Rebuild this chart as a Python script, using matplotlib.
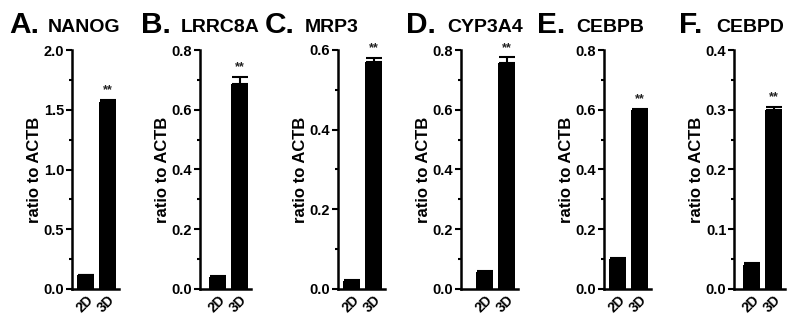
import numpy as np
import matplotlib
matplotlib.use('Agg')
import matplotlib.pyplot as plt
from matplotlib.ticker import MultipleLocator

plt.rcParams['font.family'] = ['Liberation Sans', 'DejaVu Sans']
plt.rcParams['font.weight'] = 'bold'

# data
letters = ['A.', 'B.', 'C.', 'D.', 'E.', 'F.']
genes = ['NANOG', 'LRRC8A', 'MRP3', 'CYP3A4', 'CEBPB', 'CEBPD']
groups = ['2D', '3D']
vals_2d = [0.115, 0.040, 0.021, 0.058, 0.101, 0.041]
vals_3d = [1.568, 0.685, 0.569, 0.755, 0.598, 0.300]
err_2d = [0.004, 0.002, 0.001, 0.002, 0.002, 0.002]
err_3d = [0.014, 0.026, 0.012, 0.020, 0.006, 0.005]
ymax = [2.0, 0.8, 0.6, 0.8, 0.8, 0.4]
ystep = [0.5, 0.2, 0.2, 0.2, 0.2, 0.1]
sig = ['**'] * 6

W, H = 796, 321
fig = plt.figure(figsize=(W / 100, H / 100), dpi=100)

# layout in pixels
axis_left = [72, 200, 338, 461, 604, 734]
pads = [5, 9, 5, 15, 5, 9]
letter_x = [9, 141, 265, 406, 537, 679]
gene_x = [48, 181, 305, 447, 576, 716]
unit = 22.0
top_px, bot_px = 50, 289

for i in range(6):
    left = -0.4 - pads[i] / unit
    right = 1.4 + 2 / unit
    wpx = (right - left) * unit
    ax = fig.add_axes([axis_left[i] / W, (H - bot_px) / H,
                       wpx / W, (bot_px - top_px) / H])
    x = np.arange(2)
    ax.bar(x, [vals_2d[i], vals_3d[i]], width=0.78, color='black',
           yerr=[[0, 0], [err_2d[i], err_3d[i]]], capsize=6,
           error_kw=dict(elinewidth=1.5, capthick=1.5, ecolor='black'))
    ax.set_xlim(left, right)
    ax.set_ylim(0, ymax[i])
    ax.yaxis.set_major_locator(MultipleLocator(ystep[i]))
    ax.yaxis.set_minor_locator(MultipleLocator(ystep[i] / 2))
    ax.yaxis.set_major_formatter(plt.FormatStrFormatter('%.1f'))
    ax.set_xticks(x)
    ax.set_xticklabels(groups, rotation=45, ha='right',
                       rotation_mode='anchor', fontsize=10, fontweight='bold')
    ax.tick_params(axis='x', length=0, pad=3)
    ax.tick_params(axis='y', which='major', length=4, width=1.5,
                   labelsize=10.5, pad=1.5)
    ax.tick_params(axis='y', which='minor', length=2.5, width=1.5)
    for s in ['top', 'right']:
        ax.spines[s].set_visible(False)
    for s in ['left', 'bottom']:
        ax.spines[s].set_linewidth(1.8)
    ax.set_ylabel('ratio to ACTB', fontsize=12, fontweight='bold', labelpad=1)
    ax.text(1, vals_3d[i] + err_3d[i] + ymax[i] * 0.015, sig[i],
            ha='center', va='bottom', fontsize=9, fontweight='bold',
            color='#222222')

    fig.text(letter_x[i] / W, 1 - 33 / H, letters[i], fontsize=21.5,
             fontweight='bold', va='baseline', ha='left')
    fig.text(gene_x[i] / W, 1 - 32 / H, genes[i], fontsize=14,
             fontweight='bold', va='baseline', ha='left')

fig.savefig('out.png', dpi=100)
